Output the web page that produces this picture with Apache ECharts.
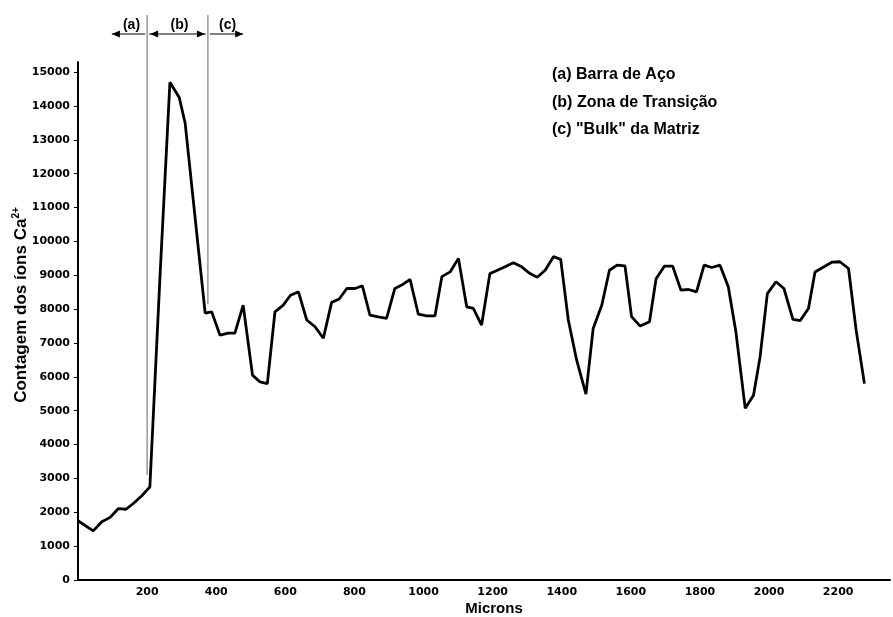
<!DOCTYPE html>
<html>
<head>
<meta charset="utf-8">
<script src="https://cdn.jsdelivr.net/npm/echarts@6/dist/echarts.min.js"></script>
<style>
html,body{margin:0;padding:0;background:#fff;}
#c{width:893px;height:617px;}
</style>
</head>
<body>
<div id="c"></div>
<script>
// ---- data ----
var microns = [0,44,69,93,117,139,160,184,208,237,266,293,310,368,387,411,435,454,478,505,527,548,570,594,615,638,662,686,710,734,756,778,802,823,845,869,893,917,937,961,985,1009,1033,1053,1077,1101,1125,1144,1168,1192,1214,1236,1260,1284,1308,1329,1352,1376,1397,1419,1443,1470,1491,1516,1538,1560,1583,1602,1627,1654,1673,1697,1721,1745,1767,1790,1812,1834,1858,1882,1904,1931,1955,1974,1995,2020,2043,2069,2090,2114,2133,2159,2183,2205,2230,2252,2276];
var counts = [1750,1450,1720,1850,2110,2090,2260,2480,2750,8900,14700,14250,13500,7880,7920,7230,7290,7290,8120,6050,5850,5800,7920,8120,8410,8510,7680,7480,7140,8200,8300,8610,8610,8690,7820,7770,7730,8610,8710,8880,7850,7800,7800,8960,9100,9500,8070,8020,7530,9050,9150,9250,9370,9250,9050,8940,9150,9550,9470,7680,6500,5490,7430,8120,9150,9300,9280,7780,7500,7630,8900,9270,9270,8560,8580,8510,9300,9230,9300,8660,7330,5070,5460,6590,8460,8810,8610,7700,7660,8020,9100,9250,9390,9400,9200,7380,5800];
var xTicks = [200,400,600,800,1000,1200,1400,1600,1800,2000,2200];
var yTicks = [0,1000,2000,3000,4000,5000,6000,7000,8000,9000,10000,11000,12000,13000,14000,15000];
var regionBounds = [200, 376];          // boundaries a|b and b|c (microns)
var boundLineEnds = [3100, 8150];       // counts where the boundary lines stop
var arrowSpans = [[98,200],[200,376],[376,478]];
var regionLabels = ['(a)','(b)','(c)'];
var legendLines = ['(a) Barra de Aço','(b) Zona de Transição','(c) "Bulk" da Matriz'];
var xName = 'Microns';

var pts = microns.map(function(m,i){return [m, counts[i]];});
var chart = echarts.init(document.getElementById('c'), null, {renderer:'canvas'});
var FONT = 'Liberation Sans, Arial, sans-serif';
var TICKFONT = 'DejaVu Sans, sans-serif';

var option = {
  backgroundColor:'#ffffff',
  animation:false,
  grid:{left:78, right:3, top:62, bottom:37, containLabel:false},
  xAxis:{
    type:'value', min:0, max:2350, interval:200,
    axisLine:{show:true, onZero:false, lineStyle:{color:'#000', width:2}},
    axisTick:{show:false},
    splitLine:{show:false},
    axisLabel:{
      color:'#000', fontFamily:TICKFONT, fontWeight:'bold', fontSize:11, margin:7,
      showMaxLabel:false,
      formatter:function(v){return xTicks.indexOf(v)>=0 ? String(v) : '';}
    }
  },
  yAxis:{
    type:'value', min:0, max:15300, interval:1000,
    axisLine:{show:true, lineStyle:{color:'#000', width:2}},
    axisTick:{show:true, length:4, lineStyle:{color:'#000', width:1}},
    splitLine:{show:false},
    axisLabel:{
      color:'#000', fontFamily:TICKFONT, fontWeight:'bold', fontSize:11, margin:8,
      showMaxLabel:false,
      formatter:function(v){return yTicks.indexOf(v)>=0 ? String(v) : '';}
    }
  },
  series:[{
    type:'line', data:pts, symbol:'none', smooth:false,
    lineStyle:{color:'#000', width:2.8}, z:5
  }]
};
chart.setOption(option);

function px(x,y){return chart.convertToPixel({gridIndex:0},[x,y]);}

var g = [];
// boundary lines
regionBounds.forEach(function(b,i){
  var bottom = px(b, boundLineEnds[i]);
  g.push({type:'line', shape:{x1:bottom[0], y1:15, x2:bottom[0], y2:bottom[1]},
          style:{stroke:'#666', lineWidth:1}, z:3});
});
// arrows and labels
var ay = 34;
function head(x, dir){ // dir -1 points left, +1 points right
  return {type:'polygon', shape:{points:[[x,ay],[x-dir*8,ay-3.5],[x-dir*8,ay+3.5]]},
          style:{fill:'#000'}, z:6};
}
arrowSpans.forEach(function(s,i){
  var x1 = px(s[0],0)[0], x2 = px(s[1],0)[0];
  g.push({type:'line', shape:{x1:x1+(i===0?0:2), y1:ay, x2:x2-(i===2?0:2), y2:ay},
          style:{stroke:'#000', lineWidth:1.2}, z:6});
  if(i===0){ g.push(head(x1,-1)); }
  if(i===1){ g.push(head(x1+3,-1)); g.push(head(x2-3,1)); }
  if(i===2){ g.push(head(x2,1)); }
  g.push({type:'text', x:(x1+x2)/2+2, y:25,
          style:{text:regionLabels[i], font:'bold 14px '+FONT, fill:'#000', align:'center', verticalAlign:'middle'}, z:6});
});
// legend-like text block
legendLines.forEach(function(t,i){
  g.push({type:'text', x:552, y:75+i*27.5,
          style:{text:t, font:'bold 16px '+FONT, fill:'#000', align:'left', verticalAlign:'middle'}, z:6});
});
// axis names
g.push({type:'text', x:494, y:609,
        style:{text:xName, font:'bold 15px '+FONT, fill:'#000', align:'center', verticalAlign:'middle'}, z:6});
g.push({type:'text', x:21, y:305, rotation:Math.PI/2,
        style:{text:'Contagem dos íons Ca{sup|2+}', font:'bold 17px '+FONT, fill:'#000', align:'center', verticalAlign:'middle',
               rich:{sup:{font:'bold 10px '+FONT, fill:'#000', verticalAlign:'top', padding:[0,0,9,0]}}}, z:6});

chart.setOption({graphic:g});
</script>
</body>
</html>
